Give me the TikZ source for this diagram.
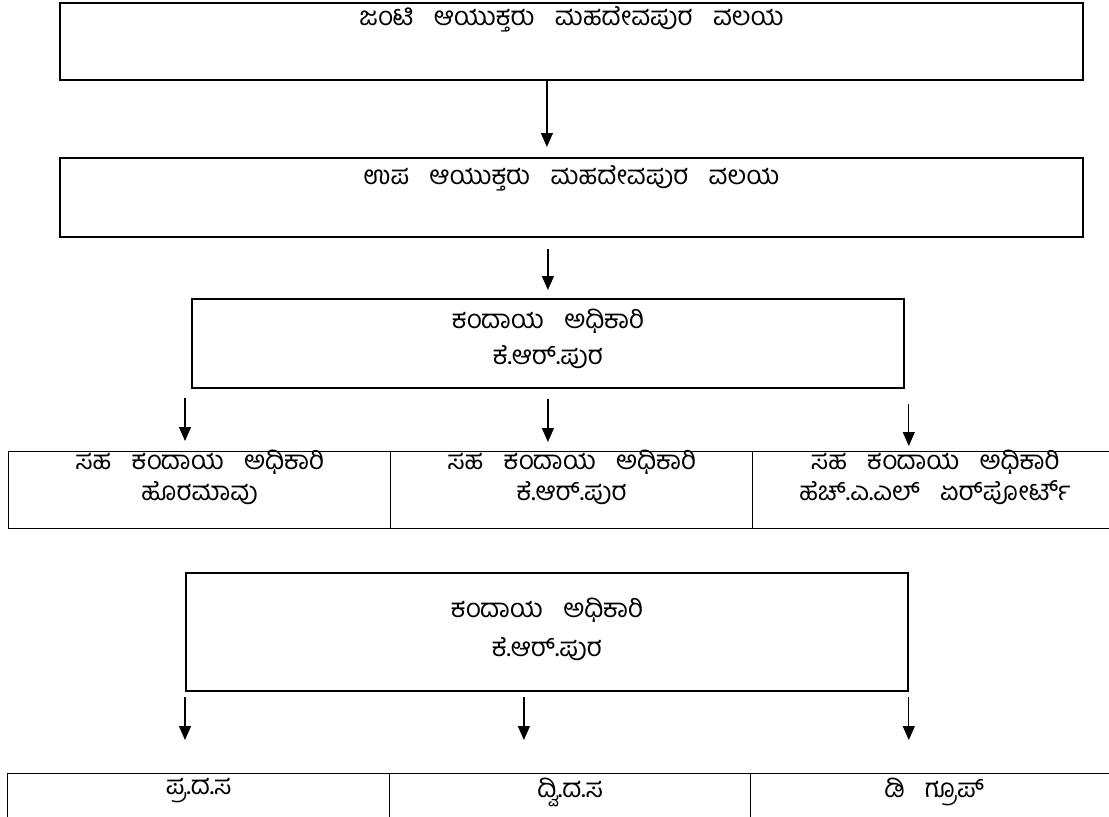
\documentclass[tikz,border=0pt]{standalone}
\usepackage{fontspec}
\newfontfamily\kan[Script=Kannada, WordSpace=3.2]{Hind Mysuru}
\usetikzlibrary{arrows.meta,positioning}

\begin{document}
\begin{tikzpicture}[x=1pt, y=-1pt, >={Triangle[length=14pt,width=12pt]}]
  \tikzstyle{block}=[rectangle, draw, line width=1.8pt, inner sep=0pt, anchor=north west]
  \tikzstyle{cell}=[rectangle, draw, line width=1.3pt, inner sep=0pt, anchor=north west, minimum height=77pt]
  \tikzstyle{title}=[font={\kan\fontsize{26}{36}\selectfont}, align=center, inner sep=0pt]
  \tikzstyle{link}=[->, line width=1.2pt]
  \useasboundingbox (0,0) rectangle (1109,817);

  % top of the chart
  \node[block, minimum width=1023pt, minimum height=77pt] (joint) at (59,2) {};
  \node[title, below=4pt of joint.north] {ಜಂಟಿ ಆಯುಕ್ತರು ಮಹದೇವಪುರ ವಲಯ};
  \node[block, minimum width=1023pt, minimum height=79pt] (deputy) at (59,157) {};
  \node[title, below=8pt of deputy.north] {ಉಪ ಆಯುಕ್ತರು ಮಹದೇವಪುರ ವಲಯ};
  \node[block, minimum width=712pt, minimum height=89pt] (office) at (191,298) {};
  \node[title, below=11pt of office.north] {ಕಂದಾಯ ಅಧಿಕಾರಿ\\ಕೆ.ಆರ್.ಪುರ};

  % sub offices
  \node[cell, minimum width=382pt] (horamavu) at (8,451) {};
  \node[cell, minimum width=362pt] (krpuram) at (390,451) {};
  \node[cell, minimum width=365pt] (hal) at (752,451) {};
  \node[title, font={\kan\fontsize{26}{31}\selectfont}, below=-1pt of horamavu.north] {ಸಹ ಕಂದಾಯ ಅಧಿಕಾರಿ\\ಹೊರಮಾವು};
  \node[title, font={\kan\fontsize{26}{31}\selectfont}, below=-1pt of krpuram.north] {ಸಹ ಕಂದಾಯ ಅಧಿಕಾರಿ\\ಕೆ.ಆರ್.ಪುರ};
  \node[title, font={\kan\fontsize{26}{31}\selectfont}, below=-1pt of hal.north] {ಸಹ ಕಂದಾಯ ಅಧಿಕಾರಿ\\ಹೆಚ್.ಎ.ಎಲ್ ಏರ್‌ಪೋರ್ಟ್};

  % second chart
  \node[block, minimum width=722pt, minimum height=118pt] (office2) at (185,572) {};
  \node[title, font={\kan\fontsize{26}{39}\selectfont}, below=26pt of office2.north] {ಕಂದಾಯ ಅಧಿಕಾರಿ\\ಕೆ.ಆರ್.ಪುರ};
  \node[cell, minimum width=382pt] (fda) at (7,773) {};
  \node[cell, minimum width=361pt] (sda) at (389,773) {};
  \node[cell, minimum width=367pt] (dgroup) at (750,773) {};
  \node[title, below=5pt of fda.north] {ಪ್ರ.ದ.ಸ};
  \node[title, below=5pt of sda.north] {ದ್ವಿ.ದ.ಸ};
  \node[title, below=5pt of dgroup.north] {ಡಿ ಗ್ರೂಪ್};

  \draw[link] ([xshift=-24.5pt]joint.south) -- ([xshift=-24.5pt, yshift=10pt]deputy.north);
  \draw[link] ([yshift=-11pt]office.north |- deputy.south) -- ([yshift=8pt]office.north);
  \draw[link] ([xshift=-6pt, yshift=-9pt]office.south west) -- ([xshift=-6pt, yshift=10pt]office.south west |- horamavu.north);
  \draw[link] ([yshift=-10pt]office.south) -- ([yshift=9pt]office.south |- krpuram.north);
  \draw[link] ([xshift=4pt, yshift=-15pt]office.south east) -- ([xshift=4pt, yshift=5pt]office.south east |- hal.north);
  \draw[link] ([yshift=-5pt]office2.south west) -- ([yshift=33pt]office2.south west |- fda.north);
  \draw[link] ([xshift=-23pt, yshift=-5pt]office2.south) -- ([xshift=-23pt, yshift=33pt]office2.south |- sda.north);
  \draw[link] ([yshift=-5pt]office2.south east) -- ([yshift=33pt]office2.south east |- dgroup.north);
\end{tikzpicture}
\end{document}
